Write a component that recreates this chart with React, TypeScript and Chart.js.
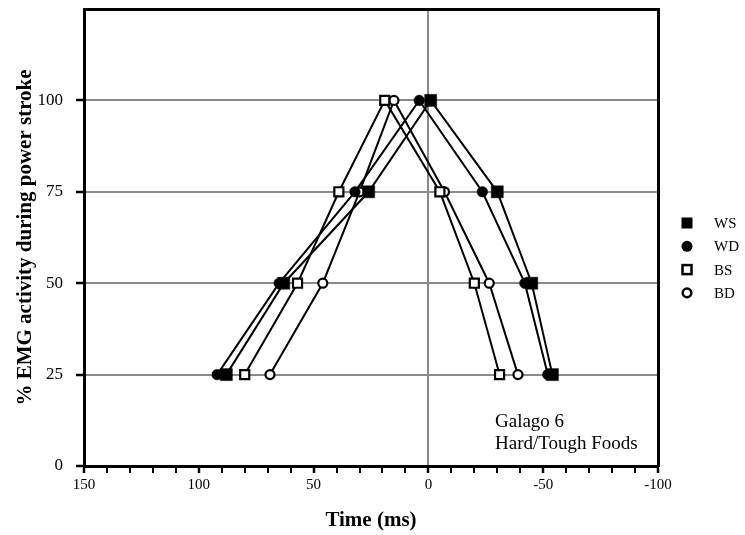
import React, { useEffect, useRef } from 'react';
import { Chart, registerables } from 'chart.js';

Chart.register(...registerables);

// ---- data ----
const seriesNames = ['WS', 'WD', 'BS', 'BD'];
const emgLevels = [25, 50, 75, 100, 75, 50, 25];
const wsTime = [88, 63, 26, -1, -30, -45, -54];
const wdTime = [92, 65, 32, 4, -23.5, -42, -52];
const bsTime = [80, 57, 39, 19, -5, -20, -31];
const bdTime = [69, 46, 30, 15, -7, -26.5, -39];
const xMajorTicks = [150, 100, 50, 0, -50, -100];
const yTickLabels = [0, 25, 50, 75, 100];
const noteLines = ['Galago 6', 'Hard/Tough Foods'];
const xTitle = 'Time (ms)';
const yTitle = '% EMG activity during power stroke';

const FONT = '"Liberation Serif", "Times New Roman", serif';
const GRID_GRAY = '#8a8a8a';
const CLEAR = 'rgba(0,0,0,0)';

type MarkerKind = 'filledSquare' | 'filledCircle' | 'openSquare' | 'openCircle';
const markerKinds: MarkerKind[] = ['filledSquare', 'filledCircle', 'openSquare', 'openCircle'];

function pts(times: number[]) {
  return times.map((t, i) => ({ x: t, y: emgLevels[i] }));
}

function makeDataset(name: string, times: number[], kind: MarkerKind) {
  const isSquare = kind === 'filledSquare' || kind === 'openSquare';
  const filled = kind === 'filledSquare' || kind === 'filledCircle';
  let radius = 5;
  if (kind === 'filledSquare') radius = 8.5;
  if (kind === 'filledCircle') radius = 5.3;
  if (kind === 'openSquare') radius = 6.4;
  if (kind === 'openCircle') radius = 4.5;
  return {
    label: name,
    data: pts(times),
    showLine: true,
    borderColor: '#000',
    borderWidth: 2,
    backgroundColor: '#000',
    pointStyle: isSquare ? 'rect' : 'circle',
    pointRadius: radius,
    pointHoverRadius: radius,
    pointBackgroundColor: filled ? '#000' : '#fff',
    pointBorderColor: '#000',
    pointBorderWidth: filled ? 0.5 : 2.2,
  };
}

const overlayPlugin = {
  id: 'overlayText',
  afterDraw(chart: any) {
    const { ctx, chartArea, scales } = chart;
    ctx.save();
    // annotation
    ctx.fillStyle = '#000';
    ctx.font = `19px ${FONT}`;
    ctx.textAlign = 'left';
    ctx.textBaseline = 'alphabetic';
    const nx = scales.x.getPixelForValue(-29);
    ctx.fillText(noteLines[0], nx, scales.y.getPixelForValue(10.6));
    ctx.fillText(noteLines[1], nx, scales.y.getPixelForValue(4.6));

    // legend
    ctx.font = `15px ${FONT}`;
    ctx.textBaseline = 'middle';
    const mx = chartArea.right + 29;
    const tx = chartArea.right + 56;
    seriesNames.forEach((name, i) => {
      const y = chartArea.top + 214 + i * 23.3;
      const kind = markerKinds[i];
      ctx.fillStyle = '#000';
      ctx.strokeStyle = '#000';
      if (kind === 'filledSquare') {
        ctx.fillRect(mx - 5.5, y - 5.5, 11, 11);
      } else if (kind === 'filledCircle') {
        ctx.beginPath();
        ctx.arc(mx, y, 5.5, 0, Math.PI * 2);
        ctx.fill();
      } else if (kind === 'openSquare') {
        ctx.lineWidth = 2.5;
        ctx.fillStyle = '#fff';
        ctx.fillRect(mx - 4.5, y - 4.5, 9, 9);
        ctx.strokeRect(mx - 4.5, y - 4.5, 9, 9);
      } else {
        ctx.lineWidth = 2.5;
        ctx.beginPath();
        ctx.arc(mx, y, 4.3, 0, Math.PI * 2);
        ctx.fillStyle = '#fff';
        ctx.fill();
        ctx.stroke();
      }
      ctx.fillStyle = '#000';
      ctx.fillText(name, tx, y + 1);
    });
    ctx.restore();
  },
};

export default function App() {
  const ref = useRef<HTMLCanvasElement>(null);

  useEffect(() => {
    document.body.style.margin = '0';
    Chart.defaults.font.family = FONT;
    const datasets = [
      makeDataset(seriesNames[0], wsTime, markerKinds[0]),
      makeDataset(seriesNames[1], wdTime, markerKinds[1]),
      makeDataset(seriesNames[2], bsTime, markerKinds[2]),
      makeDataset(seriesNames[3], bdTime, markerKinds[3]),
    ];
    const chart = new Chart(ref.current as HTMLCanvasElement, {
      type: 'scatter',
      data: { datasets } as any,
      plugins: [overlayPlugin],
      options: {
        animation: false,
        responsive: true,
        maintainAspectRatio: false,
        devicePixelRatio: 1,
        layout: { padding: { top: 6, right: 87, left: 0, bottom: 0 } },
        plugins: {
          legend: { display: false },
          tooltip: { enabled: false },
        },
        scales: {
          x: {
            type: 'linear',
            position: 'bottom',
            reverse: true,
            min: -100,
            max: 150,
            afterFit: (s: any) => {
              s.height = 69;
              s.paddingLeft = 0;
              s.paddingRight = 0;
            },
            ticks: {
              stepSize: 10,
              autoSkip: false,
              maxRotation: 0,
              color: '#000',
              padding: 3,
              font: { family: FONT, size: 15 },
              callback: (v: any) => (xMajorTicks.includes(Number(v)) ? String(v) : ''),
            },
            grid: {
              color: (c: any) => (c.tick && c.tick.value === 0 ? GRID_GRAY : CLEAR),
              lineWidth: 2,
              tickColor: '#000',
              tickWidth: (c: any) => (c.tick && xMajorTicks.includes(c.tick.value) ? 2.5 : 2),
              tickLength: 7,
            },
            border: { display: true, color: '#000', width: 3 },
            title: {
              display: true,
              text: xTitle,
              color: '#000',
              font: { family: FONT, size: 21, weight: 'bold' },
              padding: { top: 0, bottom: 1.5 },
            },
          },
          y: {
            type: 'linear',
            position: 'left',
            min: 0,
            max: 125,
            afterFit: (s: any) => {
              s.width = 84;
              s.paddingTop = 0;
              s.paddingBottom = 0;
            },
            ticks: {
              stepSize: 25,
              color: '#000',
              padding: 13,
              font: { family: FONT, size: 17 },
              callback: (v: any) => (yTickLabels.includes(Number(v)) ? String(v) : null),
            },
            grid: {
              color: (c: any) => (c.tick && c.tick.value === 0 ? CLEAR : GRID_GRAY),
              lineWidth: 2,
              tickColor: '#000',
              tickWidth: 2.5,
              tickLength: 8,
            },
            border: { display: true, color: '#000', width: 3 },
            title: {
              display: true,
              text: yTitle,
              color: '#000',
              font: { family: FONT, size: 21, weight: 'bold' },
              padding: { top: 13.4, bottom: 0 },
            },
          },
          xTop: {
            type: 'linear',
            position: 'top',
            reverse: true,
            min: -100,
            max: 150,
            afterFit: (s: any) => {
              s.height = 0;
              s.paddingLeft = 0;
              s.paddingRight = 0;
            },
            ticks: { display: false },
            grid: { display: false, drawTicks: false },
            border: { display: true, color: '#000', width: 3 },
          },
          yRight: {
            type: 'linear',
            position: 'right',
            min: 0,
            max: 125,
            afterFit: (s: any) => {
              s.width = 0;
              s.paddingTop = 0;
              s.paddingBottom = 0;
            },
            ticks: { display: false },
            grid: { display: false, drawTicks: false },
            border: { display: true, color: '#000', width: 3 },
          },
        },
      } as any,
    });
    return () => chart.destroy();
  }, []);

  return (
    <div style={{ position: 'relative', width: 745, height: 535 }}>
      <canvas ref={ref} />
    </div>
  );
}
